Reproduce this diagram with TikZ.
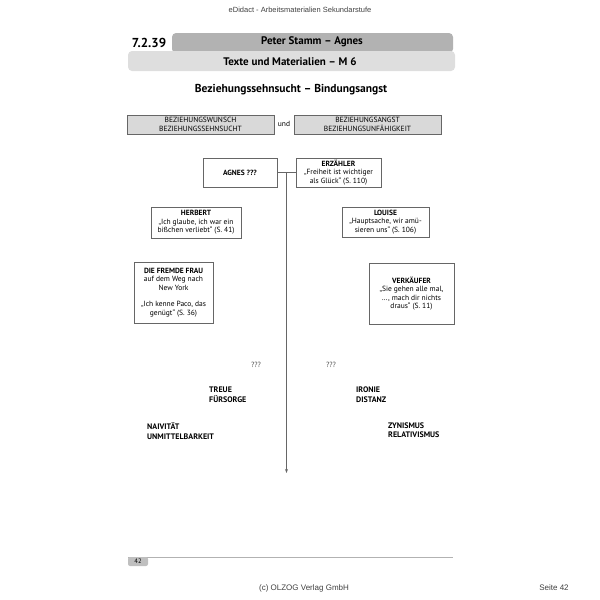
\documentclass[tikz,border=0pt]{standalone}
\usepackage{fontspec}
\setmainfont{PT Sans}
\newfontfamily\arialfont{Liberation Sans}
\usetikzlibrary{positioning,arrows.meta,calc}
\definecolor{tabdark}{gray}{0.70}
\definecolor{tablight}{gray}{0.87}
\definecolor{boxgray}{gray}{0.85}
\definecolor{linegray}{gray}{0.40}

\begin{document}
\begin{tikzpicture}[x=1pt,y=-1pt,
  small/.style={font=\fontsize{7.5}{8.5}\selectfont},
  card/.style={draw=linegray,line width=0.8pt,fill=white,small,align=center,inner sep=1pt},
  topic/.style={draw=linegray,line width=0.8pt,fill=boxgray,small,align=center,
    minimum width=147pt,minimum height=19pt,inner sep=0pt},
  tag/.style={font=\fontsize{8}{9.5}\selectfont\bfseries,align=left,anchor=north west,inner sep=0pt},
  pagefont/.style={font=\arialfont\fontsize{7.5}{8}\selectfont,text=black!75}]
\useasboundingbox (0,0) rectangle (600,600);

% Page head
\node[pagefont] (hdr) at (300,10) {eDidact - Arbeitsmaterialien Sekundarstufe};
\fill[tabdark,rounded corners=4pt] (172,33) rectangle (453,53);
\fill[tablight,rounded corners=4pt] (128,51) rectangle (455,71);
\node[font=\fontsize{13}{15}\selectfont\bfseries] (secnum) at (149,43) {7.2.39};
\node[font=\fontsize{11}{13}\selectfont\bfseries] (tabtitle) at (312,42) {Peter Stamm – Agnes};
\node[font=\fontsize{11}{13}\selectfont\bfseries] (subtitle) at (290,62) {Texte und Materialien – M 6};
\node[font=\fontsize{11.5}{13}\selectfont\bfseries] (title) at (291,90) {Beziehungssehnsucht – Bindungsangst};

% Topic boxes
\node[topic] (wish) at (200.5,124.5) {BEZIEHUNGSWUNSCH\\BEZIEHUNGSSEHNSUCHT};
\node[small] (und) at (284,124) {und};
\node[topic] (fear) at (367.5,124.5) {BEZIEHUNGSANGST\\BEZIEHUNGSUNFÄHIGKEIT};

% Characters
\node[card,minimum width=74pt,minimum height=29pt,font=\fontsize{7.5}{8.5}\selectfont\bfseries] (agnes) at (240,172.5) {AGNES ???};
\node[card,minimum width=85pt,minimum height=29pt] (narrator) at (338.5,172.5)
  {\textbf{ERZÄHLER}\\„Freiheit ist wichtiger\\als Glück“ (S. 110)};
\node[card,minimum width=90pt,minimum height=31pt] (herbert) at (196,222.5)
  {\textbf{HERBERT}\\„Ich glaube, ich war ein\\bißchen verliebt“ (S. 41)};
\node[card,minimum width=87pt,minimum height=30pt] (louise) at (385.5,222)
  {\textbf{LOUISE}\\„Hauptsache, wir amü-\\sieren uns“ (S. 106)};
\node[card,minimum width=79pt,minimum height=61pt] (stranger) at (173.5,292.5)
  {\textbf{DIE FREMDE FRAU}\\auf dem Weg nach\\New York\\[8pt]„Ich kenne Paco, das\\genügt“ (S. 36)};
\node[card,minimum width=85pt,minimum height=61pt] (seller) at (411.5,293.5)
  {\textbf{VERKÄUFER}\\„Sie gehen alle mal,\\…, mach dir nichts\\draus“ (S. 11)};

% Axis
\draw[linegray,line width=0.8pt] (agnes.east) -- (narrator.west);
\coordinate (split) at ($(agnes.east)!0.5!(narrator.west)$);
\coordinate (axisend) at (split |- 0,473);
\draw[linegray,line width=1pt,-{Stealth[length=4pt,width=3pt]}] (split) -- (axisend);

% Attitudes
\node[small,text=black!70] (qleft) at (256,365) {???};
\node[small,text=black!70] (qright) at (331,365) {???};
\node[tag] (treue) at (209,387) {TREUE\\FÜRSORGE};
\node[tag] (ironie) at (356,387) {IRONIE\\DISTANZ};
\node[tag] (naiv) at (147,422.5) {NAIVITÄT\\UNMITTELBARKEIT};
\node[tag] (zyn) at (388,422.5) {ZYNISMUS\\RELATIVISMUS};

% Page foot
\draw[black!30,line width=0.6pt] (128,557) -- (453,557);
\fill[black!25,rounded corners=2pt] (128,557) rectangle (148,566);
\node[font=\fontsize{6.5}{7}\selectfont] (pagetab) at (138,561.5) {42};
\node[pagefont,font=\arialfont\fontsize{8}{9}\selectfont] (footer) at (304,588) {(c) OLZOG Verlag GmbH};
\node[pagefont,font=\arialfont\fontsize{8}{9}\selectfont] (seite) at (554,588) {Seite 42};
\end{tikzpicture}
\end{document}
